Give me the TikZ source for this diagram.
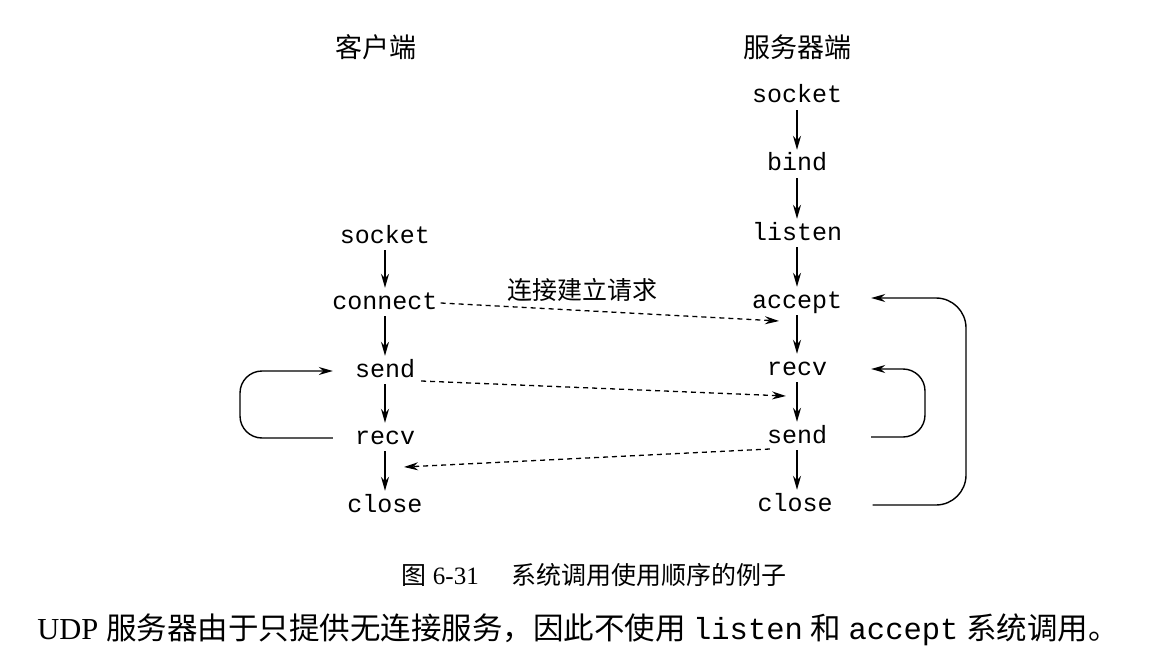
\documentclass[tikz,border=0pt]{standalone}
\usepackage{fontspec}
\setmainfont{Liberation Serif}
\setmonofont{Liberation Mono}
\newfontfamily\cjk{Noto Sans CJK SC}
\usetikzlibrary{arrows.meta}
\begin{document}
\begin{tikzpicture}[x=1pt,y=-1pt,
  call/.style={font=\fontsize{25}{25}\ttfamily, inner sep=0pt, text height=16pt, text depth=4pt},
  head/.style={font=\fontsize{27}{27}\cjk, inner sep=0pt},
  lab/.style={font=\fontsize{25}{25}\cjk, inner sep=0pt},
  flow/.style={line width=1.4pt, -{Stealth[length=14pt,width=8pt]}},
  msg/.style={line width=1.3pt, dash pattern=on 5pt off 4pt, -{Stealth[length=14pt,width=8pt]}},
  loopline/.style={line width=1.4pt, rounded corners=22pt, -{Stealth[length=14pt,width=8pt]}}]
\useasboundingbox (0,0) rectangle (1153,671);
\fill[white] (0,0) rectangle (1153,671);
% headers
\node[head] (hc) at (376,47) {客户端};
\node[head] (hs) at (797,47) {服务器端};
% server column
\node[call] (ssock) at (797,97) {socket};
\node[call] (sbind) at (797,165) {bind};
\node[call] (slist) at (797,234) {listen};
\node[call] (sacc) at (797,302) {accept};
\node[call] (srecv) at (797,369) {recv};
\node[call] (ssend) at (797,437) {send};
\node[call] (sclose) at (795,505) {close};
% client column
\node[call] (csock) at (385,237) {socket};
\node[call] (cconn) at (385,303) {connect};
\node[call] (csend) at (385,371) {send};
\node[call] (crecv) at (385,438) {recv};
\node[call] (cclose) at (385,506) {close};
% vertical arrows
\foreach \a/\b in {ssock/sbind,sbind/slist,slist/sacc,sacc/srecv,srecv/ssend,ssend/sclose,
                   csock/cconn,cconn/csend,csend/crecv,crecv/cclose}
  \draw[flow] ([yshift=-3pt]\a.south) -- ([yshift=5pt]\a.south |- \b.north);
% dashed messages
\coordinate (m1) at (779,321);
\coordinate (m2) at (786,396);
\coordinate (m3) at (404,467);
\draw[msg] ([xshift=3pt]cconn.east) -- (m1);
\node[lab] (lbl) at (582,290) {连接建立请求};
\draw[msg] ([xshift=6pt,yshift=-10pt]csend.east) -- (m2);
\draw[msg] ([xshift=3pt,yshift=-12pt]ssend.west) -- (m3);
% client loop
\draw[loopline] ([xshift=-22pt]crecv.west) -- (240,438) -- (240,371) -- ([xshift=-22pt]csend.west);
% server small loop
\draw[loopline] ([xshift=44pt]ssend.east) -- (925,437) -- (925,369) -- ([xshift=44pt]srecv.east);
% server big loop
\draw[loopline, rounded corners=30pt] ([xshift=40pt]sclose.east) -- (966,505) -- (966,298) -- ([xshift=29pt,yshift=4pt]sacc.east);
% caption and text
\node[inner sep=0pt, font=\fontsize{25}{25}\selectfont] (cap) at (594,575) {{\cjk 图} 6-31\hspace{1.3em}{\cjk 系统调用使用顺序的例子}};
\node[inner sep=0pt, font=\fontsize{30.5}{30.5}\selectfont] (txt) at (578,630)
  {UDP {\cjk 服务器由于只提供无连接服务，因此不使用} \texttt{listen} {\cjk 和} \texttt{accept} {\cjk 系统调用。}};
\end{tikzpicture}
\end{document}
